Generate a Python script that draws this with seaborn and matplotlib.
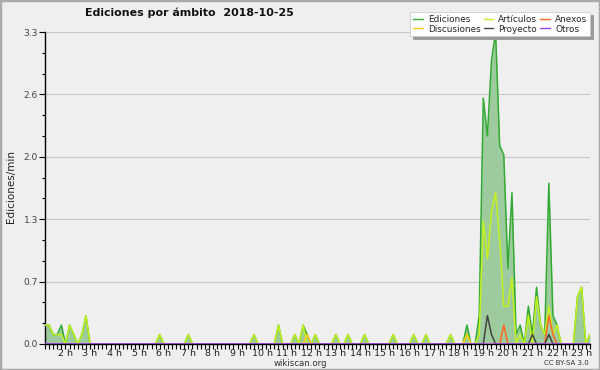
import numpy as np
import pandas as pd
import matplotlib
matplotlib.use("Agg")
import matplotlib.pyplot as plt
from matplotlib.lines import Line2D
from matplotlib.patches import Rectangle
from matplotlib.ticker import MultipleLocator, FixedLocator
import seaborn as sns

# ---- data: edits per minute, one value every 10 minutes, from 01:10 to 23:20 ----
start_minute = 70
step_minutes = 10

ediciones = [
    0.2, 0.2, 0.1, 0.1, 0.2,            # 1 h (01:10-01:50)
    0, 0.2, 0.1, 0, 0.1, 0.3,           # 2 h
    0, 0, 0, 0, 0, 0,                   # 3 h
    0, 0, 0, 0, 0, 0,                   # 4 h
    0, 0, 0, 0, 0, 0.1,                 # 5 h
    0, 0, 0, 0, 0, 0,                   # 6 h
    0.1, 0, 0, 0, 0, 0,                 # 7 h
    0, 0, 0, 0, 0, 0,                   # 8 h
    0, 0, 0, 0, 0.1, 0,                 # 9 h
    0, 0, 0, 0, 0.2, 0,                 # 10 h
    0, 0, 0.1, 0, 0.2, 0.1,             # 11 h
    0, 0.1, 0, 0, 0, 0,                 # 12 h
    0.1, 0, 0, 0.1, 0, 0,               # 13 h
    0, 0.1, 0, 0, 0, 0,                 # 14 h
    0, 0, 0.1, 0, 0, 0,                 # 15 h
    0, 0.1, 0, 0, 0.1, 0,               # 16 h
    0, 0, 0, 0, 0.1, 0,                 # 17 h
    0, 0, 0.2, 0, 0, 0.3,               # 18 h
    2.6, 2.2, 3.0, 3.3, 2.1, 2.0,       # 19 h
    0.8, 1.6, 0.1, 0.2, 0, 0.4,         # 20 h
    0.1, 0.6, 0.2, 0.1, 1.7, 0.3,       # 21 h
    0.2, 0, 0, 0, 0, 0.5,               # 22 h
    0.6, 0, 0.1,                        # 23 h
]
articulos = [
    0.2, 0.2, 0.1, 0.1, 0.1,
    0, 0.2, 0.1, 0, 0.1, 0.3,
    0, 0, 0, 0, 0, 0,
    0, 0, 0, 0, 0, 0,
    0, 0, 0, 0, 0, 0.1,
    0, 0, 0, 0, 0, 0,
    0.1, 0, 0, 0, 0, 0,
    0, 0, 0, 0, 0, 0,
    0, 0, 0, 0, 0.1, 0,
    0, 0, 0, 0, 0.2, 0,
    0, 0, 0.1, 0, 0.2, 0,
    0, 0.1, 0, 0, 0, 0,
    0.1, 0, 0, 0.1, 0, 0,
    0, 0.1, 0, 0, 0, 0,
    0, 0, 0.1, 0, 0, 0,
    0, 0.1, 0, 0, 0.1, 0,
    0, 0, 0, 0, 0.1, 0,
    0, 0, 0.1, 0, 0, 0.1,
    1.3, 0.9, 1.4, 1.6, 1.1, 0.4,
    0.4, 0.7, 0, 0.1, 0, 0.3,
    0, 0.5, 0.2, 0.1, 0.4, 0.1,
    0.2, 0, 0, 0, 0, 0.5,
    0.6, 0, 0.1,
]
discusiones = [
    0, 0, 0, 0, 0,
    0, 0, 0, 0, 0, 0,
    0, 0, 0, 0, 0, 0,
    0, 0, 0, 0, 0, 0,
    0, 0, 0, 0, 0, 0,
    0, 0, 0, 0, 0, 0,
    0, 0, 0, 0, 0, 0,
    0, 0, 0, 0, 0, 0,
    0, 0, 0, 0, 0, 0,
    0, 0, 0, 0, 0, 0,
    0, 0, 0, 0, 0, 0.1,
    0, 0, 0, 0, 0, 0,
    0, 0, 0, 0, 0, 0,
    0, 0, 0, 0, 0, 0,
    0, 0, 0, 0, 0, 0,
    0, 0, 0, 0, 0, 0,
    0, 0, 0, 0, 0, 0,
    0, 0, 0.1, 0, 0, 0,
    0, 0, 0, 0, 0, 0,
    0, 0, 0, 0, 0, 0,
    0, 0, 0, 0, 0, 0,
    0, 0, 0, 0, 0, 0,
    0, 0, 0,
]
anexos = [
    0, 0, 0, 0, 0,
    0, 0, 0, 0, 0, 0,
    0, 0, 0, 0, 0, 0,
    0, 0, 0, 0, 0, 0,
    0, 0, 0, 0, 0, 0,
    0, 0, 0, 0, 0, 0,
    0, 0, 0, 0, 0, 0,
    0, 0, 0, 0, 0, 0,
    0, 0, 0, 0, 0, 0,
    0, 0, 0, 0, 0, 0,
    0, 0, 0, 0, 0, 0,
    0, 0, 0, 0, 0, 0,
    0, 0, 0, 0, 0, 0,
    0, 0, 0, 0, 0, 0,
    0, 0, 0, 0, 0, 0,
    0, 0, 0, 0, 0, 0,
    0, 0, 0, 0, 0, 0,
    0, 0, 0, 0, 0, 0,
    0, 0, 0, 0, 0, 0.2,
    0, 0, 0, 0, 0, 0,
    0, 0, 0, 0, 0.3, 0.1,
    0, 0, 0, 0, 0, 0,
    0, 0, 0,
]
proyecto = [
    0, 0, 0, 0, 0,
    0, 0, 0, 0, 0, 0,
    0, 0, 0, 0, 0, 0,
    0, 0, 0, 0, 0, 0,
    0, 0, 0, 0, 0, 0,
    0, 0, 0, 0, 0, 0,
    0, 0, 0, 0, 0, 0,
    0, 0, 0, 0, 0, 0,
    0, 0, 0, 0, 0, 0,
    0, 0, 0, 0, 0, 0,
    0, 0, 0, 0, 0, 0,
    0, 0, 0, 0, 0, 0,
    0, 0, 0, 0, 0, 0,
    0, 0, 0, 0, 0, 0,
    0, 0, 0, 0, 0, 0,
    0, 0, 0, 0, 0, 0,
    0, 0, 0, 0, 0, 0,
    0, 0, 0, 0, 0, 0,
    0, 0.3, 0.1, 0, 0, 0,
    0, 0, 0, 0, 0, 0,
    0.1, 0, 0, 0, 0.1, 0,
    0, 0, 0, 0, 0, 0,
    0, 0, 0,
]
otros = [0] * len(ediciones)

series_names = ["Ediciones", "Artículos", "Anexos", "Discusiones", "Proyecto", "Otros"]
series_colors = ["#33aa33", "#c4f01c", "#ff6622", "#ffcc11", "#444444", "#9944ee"]
hour_labels = [f"{h} h" for h in range(2, 24)]
y_ticks = [0.0, 0.66, 1.32, 1.98, 2.64, 3.3]

# ---- build long table ----
hours = (start_minute + step_minutes * np.arange(len(ediciones))) / 60.0
data = {"Ediciones": ediciones, "Artículos": articulos, "Anexos": anexos,
        "Discusiones": discusiones, "Proyecto": proyecto, "Otros": otros}
df = pd.concat([pd.DataFrame({"hora": hours, "valor": data[n], "serie": n})
                for n in series_names], ignore_index=True)

sns.set_theme(style="white")
plt.rcParams["font.family"] = ["DejaVu Sans"]

bg = "#efeff0"
fig = plt.figure(figsize=(6, 3.7), dpi=100)
fig.patch.set_facecolor(bg)
fig.patches.append(Rectangle((0, 0), 1, 1, transform=fig.transFigure,
                             fill=False, edgecolor="#aaaaaa", linewidth=2.5))
ax = fig.add_axes([0.075, 0.0703, 0.908, 0.8432])
ax.set_facecolor(bg)

ax.fill_between(hours, ediciones, 0, color="#9dcb9d", linewidth=0, zorder=1)
sns.lineplot(data=df, x="hora", y="valor", hue="serie", hue_order=series_names,
             palette=dict(zip(series_names, series_colors)), estimator=None,
             linewidth=1.1, legend=False, ax=ax, zorder=3)

ax.set_xlim(hours[0], hours[-1])
ax.set_ylim(0, 3.3)
ax.set_yticks(y_ticks)
ax.set_yticklabels([f"{v:.1f}" for v in y_ticks])
ax.yaxis.set_minor_locator(FixedLocator(np.linspace(0, 3.3, 16)))
ax.set_xticks(range(2, 24))
ax.set_xticklabels(hour_labels)
ax.xaxis.set_minor_locator(MultipleLocator(1 / 6))
ax.tick_params(axis="y", which="major", length=4, width=0.8, labelsize=6.5,
               labelcolor="#444444", color="black", pad=1, left=True)
ax.tick_params(axis="y", which="minor", length=2.5, width=0.8, color="black", left=True)
ax.tick_params(axis="x", which="major", length=3.5, width=0.8, labelsize=6.8,
               labelcolor="#222222", color="black", pad=0, bottom=True)
ax.tick_params(axis="x", which="minor", length=3.5, width=0.8, color="black", bottom=True)
ax.grid(axis="y", color="#c8c8c8", linewidth=0.8)
ax.set_axisbelow(True)
for s in ["top", "right"]:
    ax.spines[s].set_visible(False)
for s in ["left", "bottom"]:
    ax.spines[s].set_color("black")
    ax.spines[s].set_linewidth(1.0)
ax.set_xlabel("")
ax.set_ylabel("")

fig.text(85 / 600, 1 - 13 / 370, "Ediciones por ámbito  2018-10-25",
         fontsize=7.9, fontweight="bold", ha="left", va="center", color="#111111")
fig.text(11 / 600, 1 - 187 / 370, "Ediciones/min", rotation=90, fontsize=7.5,
         ha="center", va="center", color="#222222")
fig.text(300 / 600, 1 - 363 / 370, "wikiscan.org", fontsize=6.2,
         ha="center", va="center", color="#333333")
fig.text(589 / 600, 1 - 363 / 370, "CC BY-SA 3.0", fontsize=5,
         ha="right", va="center", color="#333333")

order = ["Ediciones", "Discusiones", "Artículos", "Proyecto", "Anexos", "Otros"]
cmap = dict(zip(series_names, series_colors))
handles = [Line2D([0], [0], color=cmap[n], linewidth=1.0) for n in order]
leg = fig.legend(handles, order, ncol=3, loc="upper right",
                 bbox_to_anchor=(590 / 600, 1 - 12 / 370), fontsize=6.4,
                 frameon=True, fancybox=False, shadow={"color": "#999999", "alpha": 1},
                 handlelength=1.1, handletextpad=0.55, columnspacing=0.35,
                 labelspacing=0.1, borderpad=0.3, borderaxespad=0)
leg.get_frame().set_facecolor("white")
leg.get_frame().set_edgecolor("#cccccc")
leg.get_frame().set_linewidth(0.6)

fig.savefig("out.png", dpi=100, facecolor=bg)
